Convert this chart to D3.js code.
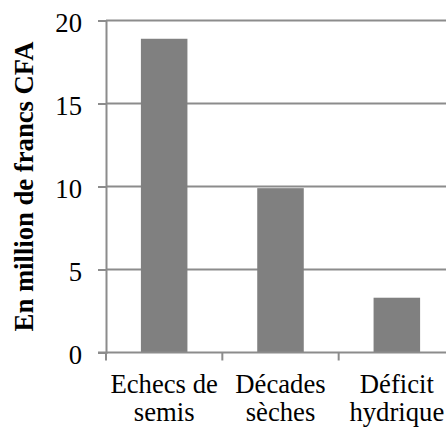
<!DOCTYPE html>
<html><head><meta charset="utf-8">
<script src="https://cdn.jsdelivr.net/npm/d3@7"></script>
<style>body{margin:0;background:#fff}svg{display:block}</style>
</head><body>
<svg id="c" width="446" height="427"></svg>
<script>
const categories = [["Echecs de","semis"],["Décades","sèches"],["Déficit","hydrique"]];
const values = [18.9, 9.9, 3.3];
const yTicks = [0, 5, 10, 15, 20];
const yTitle = "En million de francs CFA";

(function () {
const svg = d3.select("#c");
const mLeft = 106, mRight = 455, mTop = 20.5, mBottom = 352.5;
const x = d3.scaleBand().domain(d3.range(categories.length)).range([mLeft, mRight]).paddingInner(0.6).paddingOuter(0.3);
const y = d3.scaleLinear().domain([0, 20]).range([mBottom, mTop]);
const lineColor = "#8c8c8c";
const font = "Liberation Serif";
const fs = 26.67;

// y axis
const yAxis = d3.axisLeft(y).tickValues(yTicks).tickSize(8).tickPadding(16).tickFormat(d3.format("d"));
const gy = svg.append("g").attr("transform", `translate(${mLeft},0)`).call(yAxis);
gy.attr("font-family", font).attr("font-size", fs);
gy.select(".domain").attr("stroke", lineColor).attr("stroke-width", 2);
gy.selectAll(".tick line").attr("stroke", lineColor).attr("stroke-width", 2);
gy.selectAll(".tick text").attr("font-family", font).attr("font-size", fs).attr("fill", "#000").attr("dy", "0.41em");
// gridlines
svg.append("g").selectAll("line").data(yTicks.filter(d => d > 0)).join("line")
  .attr("x1", mLeft).attr("x2", 446).attr("y1", d => y(d)).attr("y2", d => y(d))
  .attr("stroke", lineColor).attr("stroke-width", 2);

// bars
svg.append("g").selectAll("rect").data(values).join("rect")
  .attr("x", (d, i) => x(i)).attr("width", x.bandwidth())
  .attr("y", d => y(d)).attr("height", d => y(0) - y(d))
  .attr("fill", "#808080");

// x axis
const step = x.step();
const bounds = d3.range(categories.length + 1).map(i => mLeft + i * step);
svg.append("line").attr("x1", mLeft - 8).attr("x2", 446).attr("y1", y(0)).attr("y2", y(0))
  .attr("stroke", lineColor).attr("stroke-width", 2);
svg.append("g").selectAll("line").data(bounds).join("line")
  .attr("x1", d => d).attr("x2", d => d).attr("y1", y(0)).attr("y2", y(0) + 8)
  .attr("stroke", lineColor).attr("stroke-width", 2);

// x labels
const xl = svg.append("g").selectAll("text").data(categories).join("text")
  .attr("font-family", font).attr("font-size", fs).attr("text-anchor", "middle")
  .attr("transform", (d, i) => `translate(${x(i) + x.bandwidth() / 2},0)`);
xl.selectAll("tspan").data(d => d).join("tspan")
  .attr("x", 0).attr("y", (d, j) => 392.5 + j * 28.5).text(d => d);

// y title
svg.append("text").attr("font-family", font).attr("font-size", fs).attr("font-weight", "bold")
  .attr("text-anchor", "middle")
  .attr("transform", `translate(32.5,${(mTop + mBottom) / 2}) rotate(-90)`)
  .text(yTitle);
})();
</script>
</body></html>
